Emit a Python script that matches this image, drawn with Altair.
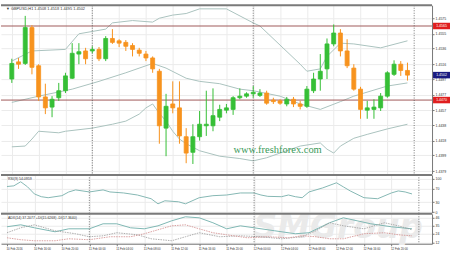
import altair as alt
import pandas as pd

# ---------------- data ----------------
idx = list(range(1, 61))
opens = [1.4497,1.4519,1.4517,1.4563,1.4514,1.4474,1.4461,1.4473,1.4482,1.4498,
         1.4529,1.4533,1.4533,1.4535,1.4523,1.4549,1.4546,1.4544,1.4540,1.4534,
         1.4529,1.4524,1.4507,1.4434,1.4465,1.4460,1.4423,1.4403,1.4423,1.4437,
         1.4437,1.4448,1.4457,1.4458,1.4473,1.4475,1.4478,1.4476,1.4479,1.4470,
         1.4469,1.4465,1.4471,1.4465,1.4462,1.4482,1.4497,1.4510,1.4542,1.4556,
         1.4533,1.4511,1.4484,1.4457,1.4458,1.4460,1.4475,1.4503,1.4516,1.4508]
highs = [1.4523,1.4524,1.4578,1.4566,1.4516,1.4491,1.4475,1.4492,1.4505,1.4543,
         1.4543,1.4537,1.4539,1.4538,1.4552,1.4561,1.4548,1.4547,1.4543,1.4537,
         1.4533,1.4526,1.4510,1.4478,1.4494,1.4494,1.4434,1.4439,1.4456,1.4482,
         1.4485,1.4464,1.4465,1.4475,1.4485,1.4480,1.4488,1.4484,1.4482,1.4473,
         1.4471,1.4474,1.4474,1.4469,1.4488,1.4505,1.4529,1.4549,1.4567,1.4561,
         1.4548,1.4516,1.4487,1.4469,1.4471,1.4479,1.4507,1.4521,1.4520,1.4518]
lows = [1.4492,1.4510,1.4515,1.4503,1.4469,1.4452,1.4448,1.4469,1.4479,1.4497,
        1.4516,1.4516,1.4530,1.4520,1.4520,1.4542,1.4538,1.4533,1.4526,1.4526,
        1.4520,1.4505,1.4414,1.4398,1.4453,1.4414,1.4389,1.4388,1.4418,1.4424,
        1.4430,1.4443,1.4453,1.4451,1.4471,1.4473,1.4473,1.4474,1.4464,1.4465,
        1.4464,1.4462,1.4461,1.4458,1.4460,1.4479,1.4482,1.4497,1.4539,1.4526,
        1.4511,1.4482,1.4446,1.4446,1.4446,1.4456,1.4473,1.4501,1.4501,1.4495]
closes = [1.4517,1.4516,1.4563,1.4512,1.4474,1.4460,1.4471,1.4482,1.4501,1.4530,
          1.4532,1.4523,1.4535,1.4523,1.4549,1.4544,1.4543,1.4539,1.4535,1.4530,
          1.4524,1.4510,1.4437,1.4462,1.4460,1.4424,1.4402,1.4423,1.4439,1.4439,
          1.4450,1.4458,1.4460,1.4473,1.4475,1.4478,1.4480,1.4479,1.4466,1.4468,
          1.4466,1.4471,1.4465,1.4462,1.4484,1.4497,1.4507,1.4542,1.4556,1.4533,
          1.4514,1.4484,1.4458,1.4460,1.4461,1.4475,1.4505,1.4516,1.4508,1.4502]

bb_up_idx = [1,4,9,11,15,16,19,22,23,25,27,29,33,37,38,44,45,47,48,50,52,56,60]
bb_up = [1.4520,1.4533,1.4535,1.4555,1.4561,1.4569,1.4572,1.4570,1.4575,1.4579,1.4581,1.4587,
         1.4587,1.4569,1.4565,1.4516,1.4507,1.4510,1.4526,1.4543,1.4542,1.4537,1.4546]
bb_mid_idx = [1,5,10,14,18,22,24,27,29,32,35,37,41,44,47,50,52,57,60]
bb_mid = [1.4467,1.4475,1.4484,1.4494,1.4505,1.4517,1.4511,1.4498,1.4494,1.4491,1.4484,
          1.4482,1.4475,1.4465,1.4458,1.4468,1.4475,1.4488,1.4492]
bb_low_idx = [1,3,4,5,8,9,13,16,18,20,21,22,23,24,25,26,27,29,32,35,37,39,41,44,47,48,49,50,52,54,57,60]
bb_low = [1.4410,1.4411,1.4420,1.4430,1.4428,1.4430,1.4434,1.4439,1.4443,1.4452,1.4460,1.4465,
          1.4453,1.4443,1.4430,1.4420,1.4414,1.4405,1.4398,1.4395,1.4392,1.4396,1.4402,1.4411,
          1.4415,1.4407,1.4402,1.4411,1.4421,1.4426,1.4433,1.4439]

levels = [1.4565, 1.4470]
level_labels = ["1.4565", "1.4470"]
last_price = [1.4502]
last_label = ["1.4502"]

rsi_idx = [1,2,3,4,5,6,7,9,10,11,13,15,16,18,20,22,23,24,26,27,29,31,33,35,37,38,39,41,42,43,44,45,47,49,50,51,53,55,57,58,59,60]
rsi = [76,78,90,75,54,46,43,49,60,66,60,66,60,57,51,40,25,34,31,25,43,49,51,57,57,51,47,46,51,46,43,60,72,87,75,63,43,40,57,63,60,54.1]

adx_idx = [1,3,5,8,10,13,15,17,19,21,23,25,27,29,31,33,35,37,40,43,45,48,50,52,54,57,60]
adx = [33.7,36.4,32.3,26.8,30.9,30.9,37.8,37.8,32.3,30.9,35.0,41.9,47.4,46.0,39.2,30.9,35.0,32.3,
       28.2,24.1,25.5,39.2,46.0,41.9,37.8,33.7,30.9]
pdi_idx = [1,3,5,8,11,13,15,17,20,22,25,27,29,32,35,38,41,44,46,48,50,53,56,58,60]
pdi = [25.5,32.3,36.4,28.2,24.1,20.0,21.3,25.5,22.7,17.2,14.5,20.0,25.5,20.0,21.3,20.0,17.2,20.0,
       28.2,39.2,35.0,30.9,39.2,35.0,29.6]
mdi_idx = [1,3,5,8,10,13,16,19,21,23,25,27,29,31,33,36,39,42,44,46,48,50,53,56,58,60]
mdi = [18.6,15.9,14.5,14.5,17.2,15.9,20.0,20.0,24.1,29.6,35.0,36.4,30.9,25.5,22.7,18.6,20.0,18.6,
       21.3,20.0,17.2,17.2,24.1,25.5,22.7,21.3]

separators = [13, 37, 61]
x_tick_idx = list(range(1, 58, 4))
x_labels = ["10 Feb 2016", "10 Feb 16:00", "10 Feb 20:00", "11 Feb 00:00", "11 Feb 04:00",
            "11 Feb 08:00", "11 Feb 12:00", "11 Feb 16:00", "11 Feb 20:00", "12 Feb 00:00",
            "12 Feb 04:00", "12 Feb 08:00", "12 Feb 12:00", "12 Feb 16:00", "12 Feb 20:00"]
main_ticks = [1.4575,1.4555,1.4536,1.4516,1.4497,1.4477,1.4457,1.4438,1.4418,1.4399,1.4379]
rsi_ticks = [0, 30, 70, 100]
adx_ticks = [12, 24, 35, 46]

title_txt = "\u25bc GBPUSD,H1  1.4508 1.4518 1.4495 1.4502"
rsi_txt = "RSI(9) 54.0959"
adx_txt = "ADX(14) 37.2077 +DI(15.6268) -DI(17.3640)"

# ---------------- style ----------------
W = 432
GREEN = "#36bf36"
ORANGE = "#f7931e"
GRID = "#ebebeb"
BAND = "#abc3bf"
FONT = "Liberation Sans"
FS = 3.5

candles = pd.DataFrame(dict(idx=idx, open=opens, high=highs, low=lows, close=closes))
bands = pd.concat([
    pd.DataFrame(dict(idx=bb_up_idx, v=bb_up, s="up")),
    pd.DataFrame(dict(idx=bb_mid_idx, v=bb_mid, s="mid")),
    pd.DataFrame(dict(idx=bb_low_idx, v=bb_low, s="low")),
])
lev_df = pd.DataFrame(dict(v=levels, t=level_labels))
last_df = pd.DataFrame(dict(v=last_price, t=last_label))
sep_df = pd.DataFrame(dict(idx=separators))
rsi_df = pd.DataFrame(dict(idx=rsi_idx, v=rsi))
adx_df = pd.DataFrame(dict(idx=adx_idx, v=adx))
pdi_df = pd.DataFrame(dict(idx=pdi_idx, v=pdi))
mdi_df = pd.DataFrame(dict(idx=mdi_idx, v=mdi))

x_scale = alt.Scale(domain=[0.13, 62.92], nice=False, zero=False)


def X(field="idx", bottom=False):
    if bottom:
        expr = "[" + ",".join("'%s'" % s for s in x_labels) + "][round((datum.value-1)/4)]"
        ax = alt.Axis(values=x_tick_idx, labelExpr=expr, labelAlign="left", labelFontSize=2.9,
                      labelFont=FONT, labelColor="#333", tickSize=2, tickColor="#777",
                      domainColor="#777", grid=True, gridColor=GRID, labelPadding=1.5,
                      labelOffset=-1, labelOverlap=False, title=None)
    else:
        ax = alt.Axis(values=x_tick_idx, labels=False, ticks=False, domain=False, grid=True,
                      gridColor=GRID, title=None, minExtent=0, maxExtent=0)
    return alt.X(f"{field}:Q", scale=x_scale, axis=ax)


def yaxis(vals, fmt):
    return alt.Axis(orient="right", values=vals, format=fmt, labelFontSize=FS, labelFont=FONT,
                    labelColor="#333", tickSize=2, tickColor="#777", domainColor="#777",
                    grid=True, gridColor=GRID, labelPadding=1, title=None)


y_main_scale = alt.Scale(domain=[1.43753, 1.45916], nice=False, zero=False)
y_main_axis = yaxis(main_ticks, ".4f")


def YM(field):
    return alt.Y(f"{field}:Q", scale=y_main_scale, axis=y_main_axis)


cond = alt.condition("datum.close >= datum.open", alt.value(GREEN), alt.value(ORANGE))

band_lines = alt.Chart(bands).mark_line(strokeWidth=1, color=BAND).encode(
    x=X(), y=YM("v"), detail="s:N")
lev_lines = alt.Chart(lev_df).mark_rule(color="#a05a5a", strokeWidth=1).encode(y=YM("v"))
seps = alt.Chart(sep_df).mark_rule(color="#555", strokeDash=[1, 1.5], strokeWidth=0.8).encode(x=X())
wicks = alt.Chart(candles).mark_rule(strokeWidth=1).encode(
    x=X(), y=YM("low"), y2="high:Q", color=cond)
bodies = alt.Chart(candles).mark_bar(size=4, strokeWidth=0.8).encode(
    x=X(), y=YM("open"), y2="close:Q", color=cond, stroke=cond)
wm = alt.Chart(pd.DataFrame(dict(t=["www.freshforex.com"]))).mark_text(
    font="Liberation Serif", fontSize=10.5, color="#3a9a5a", align="left", baseline="alphabetic"
).encode(x=alt.value(233), y=alt.value(148), text="t:N")
title = alt.Chart(pd.DataFrame(dict(t=[title_txt]))).mark_text(
    font=FONT, fontSize=3.9, color="#333", align="left", baseline="middle"
).encode(x=alt.value(5), y=alt.value(3.5), text="t:N")
top_bar = alt.Chart(pd.DataFrame(dict(a=[0]))).mark_rule(color="#7a7a7a", strokeWidth=2).encode(
    y=alt.value(0), x=alt.value(0), x2=alt.value(W))
lev_box = alt.Chart(lev_df).mark_tick(orient="horizontal", size=17, thickness=6.5, color="#e01e1e",
                                      opacity=1).encode(y=YM("v"), x=alt.value(441.5))
lev_txt = alt.Chart(lev_df).mark_text(font=FONT, fontSize=FS, color="white", baseline="middle").encode(
    y=YM("v"), x=alt.value(441.5), text="t:N")
last_box = alt.Chart(last_df).mark_tick(orient="horizontal", size=17, thickness=6.5, color="#1a1a80",
                                        opacity=1).encode(y=YM("v"), x=alt.value(441.5))
last_txt = alt.Chart(last_df).mark_text(font=FONT, fontSize=FS, color="white", baseline="middle").encode(
    y=YM("v"), x=alt.value(441.5), text="t:N")

main = alt.layer(band_lines, lev_lines, seps, wicks, bodies, wm, title, top_bar,
                 lev_box, lev_txt, last_box, last_txt).properties(width=W, height=169)

# RSI panel
y_rsi_scale = alt.Scale(domain=[-1.5, 110.3], nice=False, zero=False)
y_rsi_axis = yaxis(rsi_ticks, "d")
rsi_line = alt.Chart(rsi_df).mark_line(color="#86b8b4", strokeWidth=1).encode(
    x=X(), y=alt.Y("v:Q", scale=y_rsi_scale, axis=y_rsi_axis))
rsi_seps = alt.Chart(sep_df).mark_rule(color="#555", strokeDash=[1, 1.5], strokeWidth=0.8).encode(x=X())
rsi_label = alt.Chart(pd.DataFrame(dict(t=[rsi_txt]))).mark_text(
    font=FONT, fontSize=FS, color="#333", align="left", baseline="middle"
).encode(x=alt.value(7), y=alt.value(4), text="t:N")
rsi_panel = alt.layer(rsi_line, rsi_seps, rsi_label, top_bar).properties(width=W, height=38)

# ADX panel
y_adx_scale = alt.Scale(domain=[10.4, 51.5], nice=False, zero=False)
y_adx_axis = yaxis(adx_ticks, "d")


def YA():
    return alt.Y("v:Q", scale=y_adx_scale, axis=y_adx_axis)


smg = alt.Chart(pd.DataFrame(dict(t=["SMGroup"]))).mark_text(
    font="DejaVu Sans", fontSize=33, fontWeight="bold", fontStyle="italic", color="#eaeaea",
    align="center", baseline="alphabetic"
).encode(x=alt.value(338), y=alt.value(24), text="t:N")
adx_line = alt.Chart(adx_df).mark_line(color="#7fb8b4", strokeWidth=1).encode(x=X(bottom=True), y=YA())
pdi_line = alt.Chart(pdi_df).mark_line(color="#9a9a9a", strokeWidth=0.8, strokeDash=[1.5, 1]).encode(
    x=X(bottom=True), y=YA())
mdi_line = alt.Chart(mdi_df).mark_line(color="#d08a8a", strokeWidth=0.8, strokeDash=[1.5, 1]).encode(
    x=X(bottom=True), y=YA())
adx_seps = alt.Chart(sep_df).mark_rule(color="#555", strokeDash=[1, 1.5], strokeWidth=0.8).encode(
    x=X(bottom=True))
adx_label = alt.Chart(pd.DataFrame(dict(t=[adx_txt]))).mark_text(
    font=FONT, fontSize=FS, color="#333", align="left", baseline="middle"
).encode(x=alt.value(7), y=alt.value(4.5), text="t:N")
adx_panel = alt.layer(smg, adx_line, pdi_line, mdi_line, adx_seps, adx_label, top_bar).properties(
    width=W, height=30)

chart = alt.vconcat(main, rsi_panel, adx_panel, spacing=1, bounds="flush").properties(
    padding={"left": 0, "top": 4, "right": 0, "bottom": 0}, background="white"
).configure_view(stroke=None)

chart.save("out.html", embed_options={"renderer": "svg", "actions": False})
